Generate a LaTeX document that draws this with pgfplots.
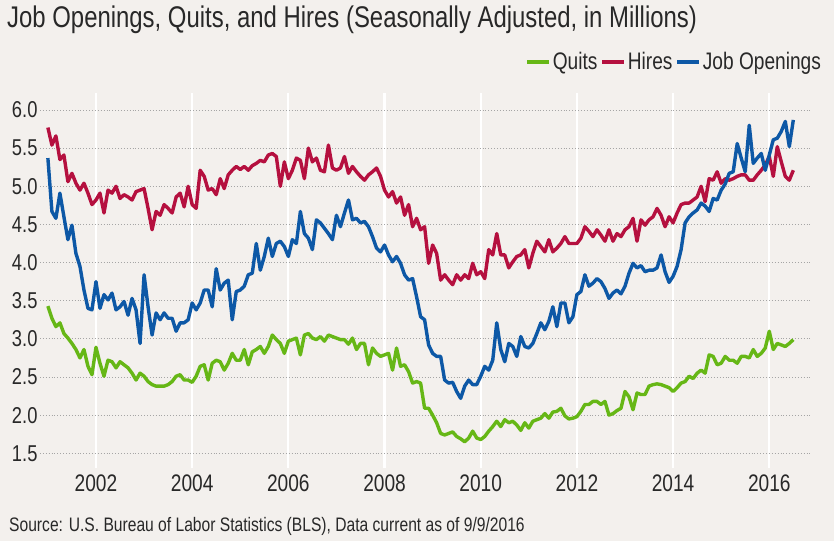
\documentclass[border=0pt]{standalone}
\usepackage{pgfplots}
\usepackage{pgfplotstable}
\pgfplotsset{compat=1.18}
\usepackage{fontspec}
\setmainfont{Liberation Sans}[FakeStretch=0.8]
\definecolor{bgc}{RGB}{243,240,237}
\definecolor{qc}{RGB}{102,183,22}
\definecolor{hc}{RGB}{181,16,63}
\definecolor{jc}{RGB}{13,88,166}
\definecolor{txt}{RGB}{40,40,40}
\definecolor{dotc}{RGB}{165,165,165}
\pgfplotstableread{
k q h j
0 3.43 5.77 5.37
1 3.27 5.54 4.67
2 3.16 5.66 4.58
3 3.21 5.35 4.91
4 3.07 5.41 4.60
5 3.01 5.06 4.30
6 2.94 5.17 4.49
7 2.86 5.04 4.12
8 2.75 4.95 3.95
9 2.86 5.04 3.64
10 2.64 4.91 3.40
11 2.53 4.76 3.38
12 2.89 4.82 3.75
13 2.68 4.91 3.40
14 2.51 4.65 3.58
15 2.72 4.95 3.51
16 2.70 4.91 3.60
17 2.62 5.00 3.38
18 2.70 4.84 3.42
19 2.66 4.89 3.49
20 2.62 4.86 3.31
21 2.55 4.82 3.53
22 2.46 4.93 3.38
23 2.55 4.95 2.94
24 2.51 4.97 3.84
25 2.44 4.71 3.42
26 2.40 4.43 3.05
27 2.38 4.67 3.34
28 2.38 4.62 3.25
29 2.38 4.76 3.34
30 2.40 4.71 3.27
31 2.44 4.65 3.27
32 2.51 4.86 3.10
33 2.53 4.91 3.21
34 2.46 4.73 3.21
35 2.46 5.00 3.25
36 2.43 4.76 3.47
37 2.51 4.71 3.38
38 2.64 5.21 3.47
39 2.66 5.13 3.64
40 2.46 4.95 3.64
41 2.68 4.97 3.42
42 2.72 4.89 3.92
43 2.70 5.10 3.64
44 2.59 4.97 3.73
45 2.68 5.15 3.77
46 2.81 5.21 3.25
47 2.72 5.26 3.62
48 2.72 5.22 3.64
49 2.86 5.26 3.69
50 2.66 5.21 3.84
51 2.83 5.27 3.86
52 2.86 5.30 4.25
53 2.90 5.34 3.90
54 2.81 5.32 4.08
55 2.90 5.41 4.32
56 3.05 5.43 4.08
57 2.99 5.39 4.25
58 2.94 5.00 4.28
59 2.81 5.32 4.21
60 2.97 5.10 4.08
61 2.99 5.21 4.30
62 3.01 5.37 4.25
63 2.79 5.34 4.67
64 3.05 5.10 4.38
65 3.07 5.50 4.32
66 3.01 5.32 4.17
67 2.99 5.37 4.56
68 3.03 5.21 4.52
69 2.97 5.19 4.45
70 3.05 5.54 4.38
71 3.03 5.24 4.30
72 3.01 5.21 4.62
73 2.99 5.24 4.47
74 2.99 5.39 4.65
75 2.93 5.17 4.82
76 3.01 5.26 4.56
77 2.86 5.19 4.58
78 2.94 5.13 4.52
79 2.94 5.08 4.54
80 2.66 5.15 4.47
81 2.88 5.19 4.34
82 2.81 5.24 4.19
83 2.77 5.13 4.14
84 2.79 4.95 4.23
85 2.81 4.86 4.10
86 2.59 4.93 4.01
87 2.88 4.78 4.08
88 2.64 4.86 3.99
89 2.66 4.62 3.84
90 2.57 4.76 3.77
91 2.42 4.47 3.79
92 2.44 4.58 3.55
93 2.42 4.43 3.29
94 2.09 4.47 3.25
95 2.09 3.99 2.92
96 2.00 4.23 2.81
97 1.90 4.12 2.77
98 1.76 3.77 2.77
99 1.74 3.84 2.46
100 1.76 3.77 2.42
101 1.78 3.71 2.43
102 1.72 3.84 2.31
103 1.69 3.77 2.22
104 1.65 3.84 2.38
105 1.70 3.79 2.46
106 1.79 3.99 2.40
107 1.70 3.84 2.40
108 1.68 3.88 2.51
109 1.72 3.79 2.64
110 1.79 4.17 2.59
111 1.85 4.10 2.72
112 1.92 4.38 3.21
113 1.85 4.10 2.86
114 1.94 4.10 2.70
115 1.90 3.93 2.94
116 1.92 4.01 2.90
117 1.87 4.08 2.77
118 1.80 4.10 3.03
119 1.90 4.17 2.90
120 1.83 3.93 2.88
121 1.92 4.12 2.94
122 1.94 4.28 3.07
123 1.96 4.21 3.21
124 2.02 4.14 3.12
125 1.96 4.30 3.23
126 2.04 4.14 3.42
127 2.05 4.19 3.16
128 2.09 4.25 3.47
129 1.99 4.34 3.47
130 1.95 4.25 3.21
131 1.96 4.25 3.29
132 1.98 4.25 3.58
133 2.05 4.32 3.62
134 2.14 4.47 3.84
135 2.14 4.41 3.69
136 2.18 4.34 3.73
137 2.18 4.43 3.79
138 2.14 4.36 3.75
139 2.18 4.28 3.66
140 2.00 4.43 3.53
141 2.02 4.28 3.60
142 2.06 4.38 3.64
143 2.09 4.34 3.59
144 2.31 4.43 3.69
145 2.24 4.47 3.86
146 2.07 4.58 3.99
147 2.29 4.28 3.93
148 2.27 4.56 3.96
149 2.27 4.49 3.88
150 2.38 4.56 3.90
151 2.40 4.60 3.90
152 2.41 4.71 3.93
153 2.40 4.62 4.10
154 2.38 4.47 3.88
155 2.36 4.60 3.74
156 2.31 4.52 3.82
157 2.36 4.65 3.95
158 2.42 4.76 4.17
159 2.44 4.78 4.52
160 2.51 4.78 4.60
161 2.48 4.82 4.65
162 2.55 4.86 4.69
163 2.59 5.00 4.78
164 2.55 4.80 4.74
165 2.79 5.10 4.67
166 2.77 5.08 4.84
167 2.66 5.19 4.82
168 2.68 5.04 4.95
169 2.77 5.10 5.03
170 2.72 5.08 5.17
171 2.72 5.10 5.19
172 2.68 5.13 5.56
173 2.77 5.15 5.37
174 2.77 5.15 5.19
175 2.75 5.08 5.80
176 2.86 5.08 5.30
177 2.77 5.15 5.37
178 2.81 5.21 5.43
179 2.88 5.28 5.21
180 3.10 5.39 5.41
181 2.86 5.13 5.61
182 2.94 5.52 5.63
183 2.92 5.32 5.72
184 2.90 5.13 5.85
185 2.94 5.08 5.52
186 2.99 5.21 5.87
}\jolts
\begin{document}
\begin{tikzpicture}[x=1bp,y=1bp]
\fill[bgc] (0,0) rectangle (834,541);
\node[anchor=west,inner sep=0pt,text=txt,font=\fontsize{30}{30}\selectfont] at (7,521) {Job Openings, Quits, and Hires (Seasonally Adjusted, in Millions)};
\node[anchor=west,inner sep=0pt,text=txt,font=\fontsize{19.6}{19.6}\selectfont] at (9,15) {Source: U.S. Bureau of Labor Statistics (BLS), Data current as of 9/9/2016};
\begin{axis}[
  at={(40bp,73bp)}, anchor=south west,
  scale only axis, width=770bp, height=375bp,
  xmin=2000.836, xmax=2016.847, ymin=1.307, ymax=6.223,
  axis line style={draw=none},
  major tick length=0pt,
  xtick={2002,2004,...,2016},
  ytick={1.5,2,...,6},
  xmajorgrids, ymajorgrids,
  x grid style={white, line width=2.2bp},
  y grid style={dotc, line width=0.9bp, dotted},
  /pgf/number format/assume math mode=true,
  xticklabel style={font=\fontsize{24}{24}\selectfont, text=txt, /pgf/number format/1000 sep={}, yshift=-3bp},
  yticklabel style={font=\fontsize{23}{23}\selectfont, text=txt, /pgf/number format/fixed, /pgf/number format/fixed zerofill, /pgf/number format/precision=1, xshift=1bp},
  legend columns=3,
  legend style={at={(1.017,1.083)}, anchor=east, draw=none, fill=none, inner sep=0pt,
    font=\fontsize{24}{24}\selectfont, text=txt,
    /tikz/every even column/.append style={column sep=1bp}},
  legend image code/.code={\draw[#1, line width=3.4bp] (0bp,0bp) -- (22bp,0bp);},
  every axis plot/.append style={line width=3.4bp, line join=round},
]
\addplot[qc, no markers] table[x expr=2001+\thisrow{k}/12, y=q] {\jolts};
\addlegendentry{Quits}
\addplot[hc, no markers] table[x expr=2001+\thisrow{k}/12, y=h] {\jolts};
\addlegendentry{Hires}
\addplot[jc, no markers] table[x expr=2001+\thisrow{k}/12, y=j] {\jolts};
\addlegendentry{Job Openings}
\end{axis}
\end{tikzpicture}
\end{document}
